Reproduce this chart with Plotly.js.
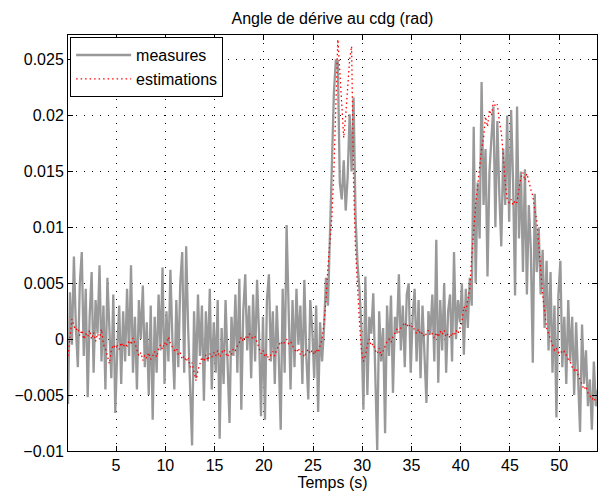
<!DOCTYPE html>
<html>
<head>
<meta charset="utf-8">
<script src="https://cdn.plot.ly/plotly-3.0.1.min.js"></script>
<style>
html,body{margin:0;padding:0;background:#fff;}
#chart{width:610px;height:496px;}
</style>
</head>
<body>
<div id="chart"></div>
<script>
// Sampling of both signals (s)
const timeStart = 0.12;
const timeStep = 0.2;

// Measured side-slip angle at centre of gravity, in mrad (5 samples per second)
const measuresMrad = [
  -5.8, 4.2, -0.5, 7.4, 1.0,
  -2.5, 5.0, 7.8, -1.5, 4.5,
  -5.2, 2.0, 6.0, -3.0, 3.5,
  0.5, 6.6, -2.0, 3.0, -4.5,
  5.5, 1.0, -3.5, 4.0, -6.6,
  -1.0, 3.0, -4.0, 2.5, -2.0,
  4.5, -1.5, 6.6, -3.0, 2.0,
  -4.5, 3.5, 0.0, 4.8, -2.5,
  1.5, -5.0, 3.0, -7.2, 2.0,
  -3.0, 4.0, -1.0, 6.4, -4.0,
  2.5, -2.0, 6.2, 0.0, -4.5,
  3.5, -2.5, 5.0, 7.8, -3.0,
  8.3, 1.0, -4.0, -9.5, 2.5,
  -3.5, 4.0, -1.5, 3.0, -5.5,
  2.5, -2.0, 4.5, -4.5, 1.5,
  -3.0, 3.5, -8.9, 1.0, -4.0,
  3.5, -2.5, -7.5, 2.0, -1.5,
  4.0, -3.0, 5.4, -6.3, 2.5,
  5.8, -1.0, 3.0, -3.5, 4.0,
  -2.0, 5.3, 0.5, -6.9, 2.0,
  -7.2, 3.5, 5.8, -2.0, 2.5,
  -4.0, 3.0, -1.5, -8.1, 4.5,
  -3.0, 10.2, 1.5, -4.5, 3.5,
  -2.5, 4.5, -0.5, 3.0, -4.0,
  5.3, -1.5, -5.4, 3.5, 1.0,
  -3.5, 3.0, -6.5, 1.5, -2.0,
  1.0, 5.5, 3.0, 9.0, 14.0,
  22.0, 25.0, 24.8, 14.0, 12.5,
  16.0, 11.5, 14.5, 20.1, 15.0,
  21.6, 11.0, 6.8, 4.4, 1.0,
  -6.3, 5.6, -5.0, 2.0, 0.5,
  4.1, -3.0, -9.9, 2.5, -2.0,
  1.0, -8.4, 3.0, -1.5, 3.9,
  -4.8, 2.0, 0.5, 5.8, -1.0,
  3.0, -2.5, 4.0, 5.0, -3.0,
  2.0, 4.5, -2.0, 3.5, -3.5,
  3.0, -1.5, -5.7, 2.5, 0.5,
  4.0, -2.0, 8.9, -3.9, 3.5,
  -1.0, 5.0, -3.0, 2.5, 4.0,
  -2.0, 7.8, 0.0, 3.5, 1.5,
  5.0, -1.4, 4.5, 1.0, 5.5,
  3.0, 19.0, 5.0, 14.0, 9.0,
  23.0, 12.0, 17.0, 5.6, 15.0,
  18.0, 20.8, 10.0, 19.5, 13.0,
  8.3, 17.0, 12.0, 20.0, 10.5,
  20.5, 14.0, 3.9, 20.8, 9.0,
  15.0, 6.0, 15.2, 4.0, 12.0,
  8.0, -2.1, 13.0, 6.0, 10.0,
  4.0, 8.0, 1.0, 7.0, -1.0,
  6.0, -3.0, 3.0, -7.0, 4.0,
  7.0, -2.5, 2.0, -4.0, 3.5,
  -2.0, 2.0, -5.0, 1.5, -3.5,
  -8.3, 1.3, -4.0, -1.0, -6.0,
  -3.6, -8.1, -2.0, -6.0, -4.5
];

// Estimated side-slip angle, in mrad (same sampling)
const estimationsMrad = [
  -1.5, 0.5, 1.8, 1.2, 0.8,
  1.0, 0.3, 0.8, 0.0, 0.5,
  0.2, 0.8, 0.0, 0.6, -0.2,
  0.5, 0.0, 0.9, -0.5, -0.8,
  -1.5, -2.2, -1.0, -0.5, -0.8,
  -0.6, -0.9, -0.3, -0.7, -0.4,
  -0.6, -0.1, -0.5, 0.1, -0.4,
  -0.9, -1.5, -1.2, -1.9, -1.4,
  -1.7, -1.2, -1.8, -1.5, -1.1,
  -1.6, -0.8, -0.5, -0.9, -0.3,
  -0.6, 0.2, -0.4, -0.7, -1.0,
  -0.8, -1.4, -1.2, -1.8, -1.5,
  -2.0, -1.6, -2.5, -2.1, -3.0,
  -3.7, -2.8, -2.2, -1.6, -2.0,
  -1.4, -1.9, -1.3, -1.6, -1.2,
  -1.5, -1.0, -1.6, -1.3, -0.9,
  -1.2, -1.6, -1.1, -1.4, -0.8,
  -1.0, -0.6, -0.3, 0.2, -0.2,
  0.3, 0.0, 0.5, 0.2, 0.0,
  0.2, -0.3, -0.8, -1.3, -1.0,
  -1.6, -1.3, -1.9, -1.4, -1.1,
  -1.5, -0.9, -0.6, -0.2, -0.5,
  -0.3, 0.0, -0.4, -0.2, -0.6,
  -0.9, -1.2, -0.8, -1.4, -1.1,
  -1.6, -1.2, -0.9, -1.3, -1.0,
  -1.4, -0.9, -1.2, -0.7, 0.0,
  1.5, 3.5, 6.5, 8.5, 11.0,
  15.0, 21.0, 26.8, 24.0, 21.0,
  18.0, 20.0, 22.5, 25.0, 26.2,
  14.0, 8.0, 4.4, 1.5, -1.0,
  -2.0, -1.5, -0.5, 0.0, -0.6,
  -0.4, -1.0, -1.3, -0.8, -1.5,
  -1.0, -0.6, -0.2, 0.0, -0.3,
  0.2, 0.5, 0.9, 0.6, 1.0,
  1.2, 1.5, 1.1, 1.4, 1.0,
  1.2, 0.8, 0.5, 0.9, 0.4,
  0.6, 0.2, 0.5, 0.8, 0.3,
  0.5, 0.1, 0.6, 0.2, 0.7,
  0.4, 0.8, 0.2, 0.5, 0.1,
  0.6, 0.3, 0.8, 0.5, 1.0,
  1.5, 2.9, 2.5, 3.5, 4.5,
  7.4, 10.0, 12.0, 13.7, 15.5,
  17.0, 18.0, 19.9, 19.0, 20.5,
  20.0, 21.3, 20.8, 21.0, 19.5,
  18.5, 16.5, 14.0, 12.5, 12.2,
  12.5, 12.0, 12.4, 12.2, 13.5,
  14.5, 14.9, 14.2, 14.8, 14.0,
  13.4, 12.8, 11.5, 10.7, 8.3,
  6.0, 4.0, 2.5, 1.0, 0.5,
  0.0, -0.5, -1.0, -0.8, -1.2,
  -1.0, -1.3, -1.1, -1.5, -1.8,
  -2.0, -2.5, -2.8, -2.6, -3.2,
  -3.6, -4.0, -4.5, -4.2, -4.8,
  -5.0, -5.4, -5.2, -5.6, -5.5
];

const seriesNames = ['measures', 'estimations'];
const xTickVals = [5, 10, 15, 20, 25, 30, 35, 40, 45, 50];
const yTickVals = [-0.01, -0.005, 0, 0.005, 0.01, 0.015, 0.02, 0.025];
const yTickText = ['\u22120.01', '\u22120.005', '0', '0.005', '0.01', '0.015', '0.02', '0.025'];
const xRange = [0.12, 53.84];
const yRange = [-0.01, 0.0272];

const time = measuresMrad.map((_, i) => +(timeStart + i * timeStep).toFixed(2));
const measures = measuresMrad.map(v => v / 1000);       // mrad -> rad
const estimations = estimationsMrad.map(v => v / 1000); // mrad -> rad

const FONT = 'Liberation Sans, Arial, Helvetica, sans-serif';

const traces = [
  {
    x: time, y: measures, name: seriesNames[0], type: 'scatter', mode: 'lines',
    line: {color: '#999999', width: 2.3}
  },
  {
    x: time, y: estimations, name: seriesNames[1], type: 'scatter', mode: 'lines',
    line: {color: '#ff0000', width: 1.3, dash: '1.5px,3px'}
  }
];

const axisCommon = {
  showline: true, linecolor: '#000', linewidth: 1, mirror: 'ticks',
  ticks: 'inside', ticklen: 5, tickwidth: 1, tickcolor: '#000',
  showgrid: true, gridcolor: '#000', gridwidth: 1, griddash: '1px,7px',
  zeroline: false, tickfont: {family: FONT, size: 16, color: '#000'}
};

const layout = {
  width: 610, height: 496,
  paper_bgcolor: '#fff', plot_bgcolor: '#fff',
  margin: {l: 68, r: 13, t: 35, b: 45},
  font: {family: FONT, size: 16, color: '#000'},
  title: {text: 'Angle de dérive au cdg (rad)', x: 0.545, xref: 'container', xanchor: 'center',
          y: 0.963, yref: 'container', yanchor: 'middle', font: {family: FONT, size: 16, color: '#000'}},
  xaxis: Object.assign({}, axisCommon, {
    range: xRange, tickvals: xTickVals, ticktext: xTickVals.map(String),
    title: {text: 'Temps (s)', standoff: 1, font: {family: FONT, size: 16, color: '#000'}}
  }),
  yaxis: Object.assign({}, axisCommon, {
    range: yRange, tickvals: yTickVals, ticktext: yTickText
  }),
  showlegend: true,
  legend: {x: 0.004, y: 0.995, xanchor: 'left', yanchor: 'top',
           bordercolor: '#000', borderwidth: 1, bgcolor: '#fff',
           itemwidth: 55,
           font: {family: FONT, size: 16, color: '#000'}}
};

Plotly.newPlot('chart', traces, layout, {displayModeBar: false, staticPlot: true});
</script>
</body>
</html>
